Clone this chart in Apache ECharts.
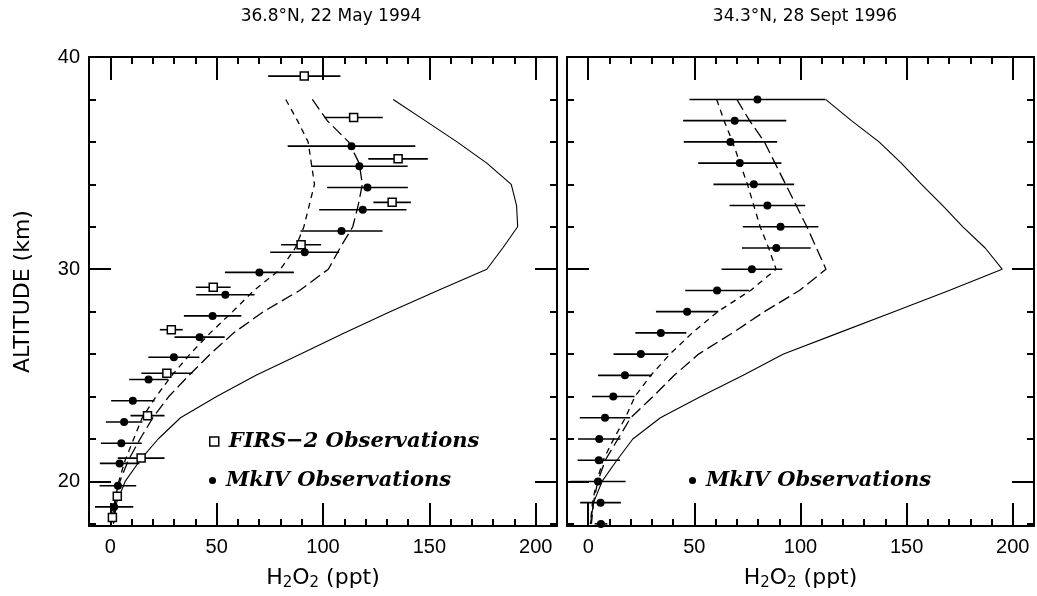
<!DOCTYPE html>
<html>
<head>
<meta charset="utf-8">
<script src="https://cdn.jsdelivr.net/npm/echarts@6/dist/echarts.min.js"></script>
<style>
  html, body { margin: 0; padding: 0; background: #fff; }
  #chart { width: 1037px; height: 596px; }
</style>
</head>
<body>
<div id="chart"></div>
<script>
// ---- Panel titles and tick values ----
const panelTitles = ['36.8°N, 22 May 1994', '34.3°N, 28 Sept 1996'];
const xMajorTicks = [0, 50, 100, 150, 200];
const xMinorTicks = [0, 10, 20, 30, 40, 50, 60, 70, 80, 90, 100, 110, 120, 130, 140, 150, 160, 170, 180, 190, 200];
const yMajorTicks = [20, 30, 40];
const yMinorTicks = [18, 20, 22, 24, 26, 28, 30, 32, 34, 36, 38, 40];

// ---- Left panel (22 May 1994): FIRS-2 observations ----
const firsAltL = [39.1, 37.15, 35.2, 33.15, 31.15, 29.15, 27.15, 25.1, 23.1, 21.1, 19.3, 18.3];
const firsValL = [91.2, 114.4, 135.3, 132.5, 89.7, 48.4, 28.7, 26.6, 17.5, 14.5, 3.3, 1.0];
const firsErrL = [17, 13.7, 14, 8.8, 9.4, 8.2, 5.4, 12, 8, 11, 2, 1];

// ---- Left panel: MkIV observations ----
const mkivAltL = [35.8, 34.85, 33.85, 32.8, 31.8, 30.8, 29.85, 28.8, 27.8, 26.8, 25.85, 24.8, 23.8, 22.8, 21.8, 20.85, 19.8, 18.8];
const mkivValL = [113.4, 117.1, 120.9, 118.7, 108.7, 91.4, 70.1, 54.1, 48.1, 42, 29.9, 18, 10.6, 6.5, 5.2, 4.4, 3.6, 1.8];
const mkivErrL = [30, 22.7, 19, 20.5, 19.3, 16.2, 16.2, 13.7, 13.5, 11.8, 12, 9.1, 10.2, 8.6, 9.6, 9.3, 8.6, 9];

// ---- Model profiles (altitude grid shared by both panels) ----
const modelAlt = [38, 37, 36, 35, 34, 33, 32, 31, 30, 29, 28, 27, 26, 25, 24, 23, 22, 21, 20, 19, 18];
const modelSolidL = [133, 148, 163, 177, 188.5, 191, 191.5, 184.5, 177, 154, 131.5, 110, 89.5, 68.5, 50, 33, 22.5, 14, 7, 3, 1.5];
const modelShortL = [82.5, 88, 93, 94.5, 96, 93.5, 91, 87, 80, 67.5, 57.5, 47, 37.5, 29, 21.5, 15, 11, 7, 4, 2, 0.5];
const modelLongL  = [95, 102, 112, 117, 118.5, 116.5, 114, 108, 102.5, 89, 72, 58, 47, 37, 27.5, 20, 14, 8.5, 4.5, 2.5, 1.5];

// ---- Right panel (28 Sept 1996): MkIV observations ----
const mkivAltR = [38, 37, 36, 35, 34, 33, 32, 31, 30, 29, 28, 27, 26, 25, 24, 23, 22, 21, 20, 19, 18];
const mkivValR = [79.7, 69, 67, 71.4, 78, 84.4, 90.6, 88.6, 77.1, 60.7, 46.6, 34.2, 24.8, 17.3, 11.8, 7.9, 5.2, 5, 4.6, 5.8, 6];
const mkivErrR = [32, 24.3, 22, 19.6, 19, 17.8, 17.8, 16.2, 14.3, 15, 14.7, 12, 12.9, 12.7, 10, 11.9, 10, 10, 13, 9.6, 3];

// ---- Right panel model profiles ----
const modelSolidR = [111.8, 124, 137, 147.5, 157, 167, 176.5, 187, 195, 170, 144, 118, 92, 73, 53, 34, 21, 13.5, 6.5, 2.5, 1];
const modelShortR = [60.5, 64, 68, 71.5, 75, 78, 81, 85, 88.5, 76.5, 61, 49, 38.5, 29.5, 22, 17.5, 12, 7, 4, 2, 1];
const modelLongR  = [70, 76, 83, 88, 93, 98, 103, 107.5, 112, 99.5, 83, 68, 52, 40.5, 30.5, 20, 14, 8, 4.5, 2.5, 1.5];

const FIRS_NAME = 'FIRS\u22122 Observations';
const MKIV_NAME = 'MkIV Observations';

const sansFont = 'Liberation Sans';
const nameFont = 'DejaVu Sans';
const legendText = {
  fontFamily: 'DejaVu Serif', fontStyle: 'italic', fontWeight: 'bold',
  fontSize: 21, color: '#000', padding: [0, 0, 0, 5]
};

const X_MIN = -10, X_MAX = 210, Y_MIN = 17.9, Y_MAX = 40;
const black = '#000';

const chart = echarts.init(document.getElementById('chart'), null, { renderer: 'canvas' });

const grids = [
  { left: 89, top: 57, width: 468, height: 470 },
  { left: 567, top: 57, width: 467, height: 470 }
];

function xAxesFor(gi) {
  const base = { gridIndex: gi, type: 'value', min: X_MIN, max: X_MAX, splitLine: { show: false } };
  const tickStyle = { color: black, width: 2 };
  const frameLine = { show: true, onZero: false, lineStyle: { color: black, width: 2 } };
  const noLine = { show: false, onZero: false };
  return [
    Object.assign({}, base, {
      position: 'bottom',
      axisLine: frameLine,
      axisTick: { show: true, inside: true, length: 23, customValues: xMajorTicks, lineStyle: tickStyle },
      axisLabel: { show: true, customValues: xMajorTicks, margin: 11, color: black, fontSize: 20, fontFamily: sansFont },
      name: '{n|H}{s|2}{n|O}{s|2}{n| (ppt)}',
      nameLocation: 'middle', nameGap: 40,
      nameTextStyle: {
        rich: {
          n: { fontSize: 22, fontFamily: nameFont, color: black },
          s: { fontSize: 15, fontFamily: nameFont, color: black, padding: [10, 0, 0, 0] }
        }
      }
    }),
    Object.assign({}, base, {
      position: 'bottom',
      axisLine: noLine,
      axisTick: { show: true, inside: true, length: 7, customValues: xMinorTicks, lineStyle: tickStyle },
      axisLabel: { show: false }
    }),
    Object.assign({}, base, {
      position: 'top',
      axisLine: frameLine,
      axisTick: { show: true, inside: true, length: 23, customValues: xMajorTicks, lineStyle: tickStyle },
      axisLabel: { show: false }
    }),
    Object.assign({}, base, {
      position: 'top',
      axisLine: noLine,
      axisTick: { show: true, inside: true, length: 7, customValues: xMinorTicks, lineStyle: tickStyle },
      axisLabel: { show: false }
    })
  ];
}

function yAxesFor(gi) {
  const base = { gridIndex: gi, type: 'value', min: Y_MIN, max: Y_MAX, splitLine: { show: false } };
  const tickStyle = { color: black, width: 2 };
  const frameLine = { show: true, onZero: false, lineStyle: { color: black, width: 2 } };
  const noLine = { show: false, onZero: false };
  const leftMajor = Object.assign({}, base, {
    position: 'left',
    axisLine: frameLine,
    axisTick: { show: true, inside: true, length: 22, customValues: yMajorTicks, lineStyle: tickStyle },
    axisLabel: gi === 0
      ? { show: true, customValues: yMajorTicks, margin: 9, color: black, fontSize: 20, fontFamily: sansFont }
      : { show: false }
  });
  if (gi === 0) {
    leftMajor.name = 'ALTITUDE (km)';
    leftMajor.nameLocation = 'middle';
    leftMajor.nameRotate = 90;
    leftMajor.nameGap = 55;
    leftMajor.nameTextStyle = { fontSize: 22, fontFamily: nameFont, color: black };
  }
  return [
    leftMajor,
    Object.assign({}, base, {
      position: 'left',
      axisLine: noLine,
      axisTick: { show: true, inside: true, length: 7, customValues: yMinorTicks, lineStyle: tickStyle },
      axisLabel: { show: false }
    }),
    Object.assign({}, base, {
      position: 'right',
      axisLine: frameLine,
      axisTick: { show: true, inside: true, length: 22, customValues: yMajorTicks, lineStyle: tickStyle },
      axisLabel: { show: false }
    }),
    Object.assign({}, base, {
      position: 'right',
      axisLine: noLine,
      axisTick: { show: true, inside: true, length: 7, customValues: yMinorTicks, lineStyle: tickStyle },
      axisLabel: { show: false }
    })
  ];
}

// Horizontal error bar drawn through the axis scales
function errorBarSeries(gi, name, alt, val, err) {
  return {
    type: 'custom', name: name + ' error', xAxisIndex: gi * 4, yAxisIndex: gi * 4,
    silent: true, z: 3,
    data: alt.map((a, i) => [val[i], err[i], a]),
    encode: { x: 0, y: 2 },
    renderItem: function (params, api) {
      const x = api.value(0), e = api.value(1), y = api.value(2);
      const p1 = api.coord([x - e, y]);
      const p2 = api.coord([x + e, y]);
      return {
        type: 'line',
        shape: { x1: p1[0], y1: p1[1], x2: p2[0], y2: p2[1] },
        style: { stroke: black, lineWidth: 1.6 }
      };
    }
  };
}

function modelLine(gi, vals, dash, width) {
  return {
    type: 'line', xAxisIndex: gi * 4, yAxisIndex: gi * 4,
    data: modelAlt.map((a, i) => [vals[i], a]),
    symbol: 'none', showSymbol: false, silent: true, z: 2,
    lineStyle: { color: black, width: width, type: dash }
  };
}

function firsSeries(gi, alt, val) {
  return {
    type: 'scatter', name: FIRS_NAME, xAxisIndex: gi * 4, yAxisIndex: gi * 4,
    data: alt.map((a, i) => [val[i], a]),
    symbol: 'rect', symbolSize: 8, z: 5,
    itemStyle: { color: '#fff', borderColor: black, borderWidth: 1.5, opacity: 1 }
  };
}

function mkivSeries(gi, alt, val) {
  return {
    type: 'scatter', name: MKIV_NAME, xAxisIndex: gi * 4, yAxisIndex: gi * 4,
    data: alt.map((a, i) => [val[i], a]),
    symbol: 'circle', symbolSize: 8, z: 6,
    itemStyle: { color: black, opacity: 1 }
  };
}

const option = {
  animation: false,
  backgroundColor: '#fff',
  title: [
    { text: panelTitles[0], left: 331, top: 8, textAlign: 'center', padding: 0,
      textStyle: { fontSize: 17, fontWeight: 'normal', fontFamily: nameFont, color: black } },
    { text: panelTitles[1], left: 805, top: 8, textAlign: 'center', padding: 0,
      textStyle: { fontSize: 17, fontWeight: 'normal', fontFamily: nameFont, color: black } }
  ],
  legend: [
    { data: [{ name: FIRS_NAME, icon: 'rect', itemStyle: { color: '#fff', borderColor: black, borderWidth: 1.5 } }],
      left: 209, top: 431, padding: 0, itemWidth: 9, itemHeight: 9, selectedMode: false, textStyle: legendText },
    { data: [{ name: MKIV_NAME, icon: 'circle', itemStyle: { color: black } }],
      left: 209, top: 470, padding: 0, itemWidth: 7, itemHeight: 7, selectedMode: false, textStyle: legendText },
    { data: [{ name: MKIV_NAME, icon: 'circle', itemStyle: { color: black } }],
      left: 689, top: 470, padding: 0, itemWidth: 7, itemHeight: 7, selectedMode: false, textStyle: legendText }
  ],
  grid: grids,
  xAxis: xAxesFor(0).concat(xAxesFor(1)),
  yAxis: yAxesFor(0).concat(yAxesFor(1)),
  series: [
    modelLine(0, modelSolidL, 'solid', 1.1),
    modelLine(0, modelShortL, [6, 5], 1.3),
    modelLine(0, modelLongL, [12, 5], 1.3),
    errorBarSeries(0, FIRS_NAME, firsAltL, firsValL, firsErrL),
    errorBarSeries(0, MKIV_NAME, mkivAltL, mkivValL, mkivErrL),
    firsSeries(0, firsAltL, firsValL),
    mkivSeries(0, mkivAltL, mkivValL),

    modelLine(1, modelSolidR, 'solid', 1.1),
    modelLine(1, modelShortR, [6, 5], 1.3),
    modelLine(1, modelLongR, [12, 5], 1.3),
    errorBarSeries(1, MKIV_NAME, mkivAltR, mkivValR, mkivErrR),
    mkivSeries(1, mkivAltR, mkivValR)
  ]
};

chart.setOption(option);
</script>
</body>
</html>
